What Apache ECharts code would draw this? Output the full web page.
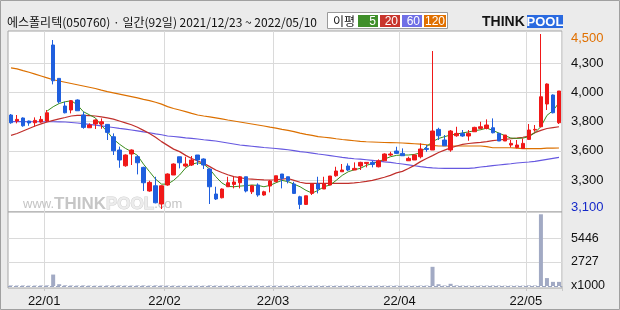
<!DOCTYPE html>
<html><head><meta charset="utf-8">
<script src="https://cdn.jsdelivr.net/npm/echarts@6.0.0/dist/echarts.min.js"></script>
<style>html,body{margin:0;padding:0;background:#ebebeb}#c{width:620px;height:310px}</style>
</head><body><div id="c"></div><script>
const dates = [
'2021/12/23','2021/12/24','2021/12/27','2021/12/28','2021/12/29','2021/12/30',
'2022/01/03','2022/01/04','2022/01/05','2022/01/06','2022/01/07','2022/01/10','2022/01/11','2022/01/12','2022/01/13','2022/01/14',
'2022/01/17','2022/01/18','2022/01/19','2022/01/20','2022/01/21','2022/01/24','2022/01/25','2022/01/26','2022/01/27','2022/01/28',
'2022/02/03','2022/02/04','2022/02/07','2022/02/08','2022/02/09','2022/02/10','2022/02/11','2022/02/14','2022/02/15','2022/02/16',
'2022/02/17','2022/02/18','2022/02/21','2022/02/22','2022/02/23','2022/02/24','2022/02/25','2022/02/28',
'2022/03/02','2022/03/03','2022/03/04','2022/03/07','2022/03/08','2022/03/10','2022/03/11','2022/03/14','2022/03/15','2022/03/16',
'2022/03/17','2022/03/18','2022/03/21','2022/03/22','2022/03/23','2022/03/24','2022/03/25','2022/03/28','2022/03/29','2022/03/30','2022/03/31',
'2022/04/01','2022/04/04','2022/04/05','2022/04/06','2022/04/07','2022/04/08','2022/04/11','2022/04/12','2022/04/13','2022/04/14',
'2022/04/15','2022/04/18','2022/04/19','2022/04/20','2022/04/21','2022/04/22','2022/04/25','2022/04/26','2022/04/27','2022/04/28','2022/04/29',
'2022/05/02','2022/05/03','2022/05/04','2022/05/06','2022/05/09','2022/05/10'];
const opens = [3853,3805,3829,3805,3791,3797,3805,4413,4146,3925,3893,3973,3853,3751,3781,3781,3778,3679,3573,3447,
3541,3519,3434,3245,3287,3141,3293,3373,3519,3445,3453,3533,3501,3421,3221,3191,3279,3298,3311,3359,
3239,3293,3213,3285,3319,3381,3359,3301,3199,3138,3226,3301,3261,3293,3367,3399,3445,3413,3445,3466,
3474,3439,3487,3533,3565,3546,3487,3493,3519,3586,3573,3738,3653,3573,3687,3706,3685,3719,3746,3746,
3751,3706,3645,3613,3594,3586,3658,3733,3759,3941,4013,3791];
const closes = [3791,3818,3767,3789,3810,3818,3871,4127,3959,3871,3967,3887,3754,3773,3813,3799,3714,3567,3493,3533,
3573,3471,3311,3314,3151,3287,3381,3461,3471,3461,3493,3493,3453,3279,3181,3261,3311,3317,3359,3245,
3287,3213,3239,3325,3367,3346,3327,3226,3138,3207,3301,3261,3301,3365,3405,3413,3413,3426,3474,3474,
3458,3487,3541,3541,3546,3527,3506,3533,3581,3578,3725,3687,3607,3725,3706,3685,3706,3754,3759,3773,
3711,3645,3693,3626,3613,3626,3733,3738,3999,4101,3871,4045];
const lows = [3783,3786,3759,3767,3759,3791,3797,4098,3946,3866,3866,3887,3743,3751,3741,3743,3653,3533,3431,3439,
3453,3378,3245,3239,3146,3101,3287,3373,3426,3434,3445,3453,3421,3141,3173,3186,3279,3266,3266,3234,
3221,3199,3207,3234,3319,3266,3306,3221,3100,3133,3213,3226,3261,3293,3359,3399,3405,3413,3413,3434,
3434,3434,3487,3525,3541,3527,3487,3493,3506,3559,3573,3653,3607,3559,3679,3679,3647,3719,3738,3738,
3706,3645,3645,3594,3586,3586,3653,3719,3754,3893,3866,3781];
const highs = [3861,3853,3834,3808,3834,3845,3893,4453,4146,3959,3973,3978,3879,3786,3818,3826,3781,3706,3600,3538,
3578,3533,3439,3327,3359,3290,3386,3466,3519,3519,3525,3533,3506,3426,3279,3266,3359,3359,3365,3359,
3293,3306,3247,3333,3367,3381,3359,3319,3207,3207,3301,3359,3359,3365,3439,3461,3466,3474,3479,3474,
3485,3498,3546,3559,3599,3586,3519,3538,3626,3613,4365,3751,3693,3733,3759,3733,3733,3759,3799,3818,
3826,3711,3693,3653,3653,3666,3781,3773,4501,4106,4018,4045];
const volumes = [60,50,60,40,50,60,70,1300,200,80,60,50,70,50,40,40,60,70,70,50,
50,60,70,50,70,60,50,50,40,40,40,40,40,70,50,40,40,40,40,40,
40,40,30,40,40,40,30,40,50,40,40,40,40,40,40,40,40,40,40,30,
30,40,40,40,50,40,40,40,50,50,2180,200,60,250,70,50,40,40,50,50,
60,50,40,40,40,40,70,60,8150,900,470,470];
const ma5 = [null,null,null,null,null,null,3885,3919,3945,3959,
3967,3935,3880,3855,3830,3770,3720,3660,3620,3586,
3560,3530,3460,3400,3340,3300,3300,3330,3373,3430,
3460,3471,3460,3420,3360,3310,3282,3279,3284,3288,
3293,3290,3279,3290,3311,3330,3320,3300,3279,3250,
3228,3250,3280,3293,3330,3370,3399,3415,3426,3450,
3465,3479,3500,3519,3530,3533,3533,3538,3550,3600,
3640,3665,3680,3693,3700,3710,3718,3728,3735,3748,
3730,3709,3688,3669,3666,3668,3680,3712,3760,3850,3888,3951];
const ma20 = [3690,3705,3725,3745,3765,3782,3797,3810,3822,3833,
3845,3850,3850,3848,3845,3838,3830,3820,3805,3790,
3775,3755,3730,3705,3675,3640,3610,3580,3560,3530,
3505,3485,3466,3440,3413,3393,3375,3360,3352,3343,
3340,3337,3334,3333,3335,3340,3345,3330,3315,3306,
3306,3306,3306,3306,3306,3306,3306,3310,3315,3322,
3330,3342,3355,3370,3390,3402,3425,3450,3480,3505,
3528,3553,3572,3590,3605,3618,3625,3630,3634,3640,
3648,3653,3658,3663,3668,3675,3685,3712,3730,3745,3752,3759];
const ma60 = [3800,3800,3800,3799,3799,3799,3799,3799,3798,3797,
3793,3789,3784,3778,3772,3766,3759,3753,3746,3740,
3733,3726,3718,3711,3702,3695,3685,3681,3676,3670,
3666,3661,3655,3650,3645,3637,3629,3621,3613,3608,
3603,3598,3593,3589,3585,3580,3575,3568,3560,3555,
3548,3541,3535,3528,3521,3514,3508,3503,3500,3495,
3490,3484,3478,3474,3467,3461,3454,3447,3440,3434,
3430,3427,3426,3426,3426,3426,3426,3430,3437,3442,
3448,3453,3458,3463,3469,3473,3477,3482,3490,3498,3506,3514];
const ma120 = [4230,4222,4208,4195,4180,4165,4150,4135,4125,4115,
4105,4095,4085,4075,4065,4052,4040,4030,4020,4010,
4000,3990,3978,3968,3955,3940,3920,3905,3893,3880,
3866,3853,3845,3838,3830,3822,3813,3805,3797,3789,
3781,3773,3765,3756,3748,3738,3730,3720,3708,3698,
3690,3680,3675,3670,3663,3657,3652,3647,3642,3639,
3637,3635,3633,3632,3631,3629,3626,3623,3620,3615,
3610,3605,3605,3605,3605,3605,3605,3605,3605,3600,
3591,3591,3591,3591,3588,3584,3584,3584,3584,3588,3588,3589];
const priceTickValues = [3100, 3333.33, 3566.67, 3800, 4033.33, 4266.67, 4500];
const priceTickLabels = ['3,100','3,300','3,600','3,800','4,000','4,300','4,500'];
const priceGridValues = [3333.33, 3566.67, 3800, 4033.33, 4266.67];
const volTickValues = [0, 2727, 5446];
const volTickLabels = ['x1000','2727','5446'];
const volGridValues = [2727, 5446];

const monthStart = dates.map((d, i) => i > 0 && d.slice(0, 7) !== dates[i - 1].slice(0, 7));
const candles = dates.map((d, i) => [opens[i], closes[i], lows[i], highs[i]]);
function nearest(arr, v) { let k = 0; for (let i = 1; i < arr.length; i++) if (Math.abs(arr[i] - v) < Math.abs(arr[k] - v)) k = i; return k; }

const FONT = 'Liberation Sans';
const GRID_LINE = '#dadada';
const chart = echarts.init(document.getElementById('c'), null, {renderer: 'canvas'});
const monthFn = (idx) => monthStart[idx];
chart.setOption({
  animation: false,
  backgroundColor: '#ebebeb',
  grid: [
    {left: 8, top: 31, width: 554, height: 181, show: true, backgroundColor: '#fff', borderColor: '#a4a4a4', borderWidth: 1, z: 0},
    {left: 8, top: 212, width: 554, height: 76, show: true, backgroundColor: '#fff', borderColor: '#a4a4a4', borderWidth: 1, z: 0}
  ],
  xAxis: [
    {type: 'category', gridIndex: 0, data: dates, boundaryGap: true,
     axisLine: {show: false}, axisTick: {show: false}, axisLabel: {show: false},
     splitLine: {show: true, interval: monthFn, lineStyle: {color: GRID_LINE, width: 1}}},
    {type: 'category', gridIndex: 1, data: dates, boundaryGap: true,
     axisLine: {show: false},
     axisTick: {show: true, interval: monthFn, length: 5, lineStyle: {color: '#c8c8c8'}},
     axisLabel: {show: true, interval: monthFn, margin: 7, fontFamily: FONT, fontSize: 13, color: '#111',
       padding: [0, 6, 0, 0], formatter: (v) => v.slice(2, 7)},
     splitLine: {show: true, interval: monthFn, lineStyle: {color: GRID_LINE, width: 1}}}
  ],
  yAxis: [
    {type: 'value', gridIndex: 0, position: 'right', min: 3077, max: 4525, scale: true,
     axisLine: {show: false},
     axisTick: {show: false, customValues: priceGridValues},
     splitLine: {show: true, lineStyle: {color: GRID_LINE, width: 1}},
     axisLabel: {customValues: priceTickValues, margin: 9, fontFamily: FONT, fontSize: 13, color: '#111',
       formatter: function (v) {
         const k = nearest(priceTickValues, v);
         const t = priceTickLabels[k];
         if (k === priceTickValues.length - 1) return '{hi|' + t + '}';
         if (k === 0) return '{lo|' + t + '}';
         return t;
       },
       rich: {
         hi: {color: '#e07000', fontFamily: FONT, fontSize: 13, padding: [8, 0, 0, 0]},
         lo: {color: '#1428c8', fontFamily: FONT, fontSize: 13, padding: [0, 0, 4, 0]}
       }}},
    {type: 'value', gridIndex: 1, position: 'right', min: -227, max: 8409,
     axisLine: {show: false},
     axisTick: {show: false, customValues: volGridValues},
     splitLine: {show: true, lineStyle: {color: GRID_LINE, width: 1}},
     axisLabel: {customValues: volTickValues, margin: 9, fontFamily: FONT, fontSize: 12.5, color: '#111',
       formatter: (v) => volTickLabels[nearest(volTickValues, v)]}}
  ],
  series: [
    {name: 'MA120', type: 'line', xAxisIndex: 0, yAxisIndex: 0, data: ma120, symbol: 'none', z: 2,
     lineStyle: {color: '#dc7000', width: 1.2}},
    {name: 'MA60', type: 'line', xAxisIndex: 0, yAxisIndex: 0, data: ma60, symbol: 'none', z: 2,
     lineStyle: {color: '#6658e0', width: 1.2}},
    {name: 'MA20', type: 'line', xAxisIndex: 0, yAxisIndex: 0, data: ma20, symbol: 'none', z: 2,
     lineStyle: {color: '#c0302c', width: 1.2}},
    {name: 'MA5', type: 'line', xAxisIndex: 0, yAxisIndex: 0, data: ma5, symbol: 'none', z: 2,
     lineStyle: {color: '#3a8c1c', width: 1}},
    {name: 'price', type: 'candlestick', xAxisIndex: 0, yAxisIndex: 0, data: candles, barWidth: 4, z: 3,
     itemStyle: {color: '#f01818', color0: '#1f5fde', borderColor: '#f01818', borderColor0: '#1f5fde', borderWidth: 1}},
    {name: 'volume', type: 'bar', xAxisIndex: 1, yAxisIndex: 1, data: volumes, barWidth: 4, z: 3,
     itemStyle: {color: '#a2aac4'},
     markLine: {silent: true, symbol: ['none', 'none'], label: {show: false},
       lineStyle: {color: '#9aa4c0', type: [4, 2], width: 1}, data: [{yAxis: 0}]}}
  ],
  graphic: [
    {type: 'rect', shape: {x: 0.5, y: 0.5, width: 619, height: 309}, style: {fill: 'none', stroke: '#a0a0a0', lineWidth: 1}, z: 10},
    {type: 'text', x: 7, y: 22, style: {text: '에스폴리텍(050760) · 일간(92일) 2021/12/23 ~ 2022/05/10',
      font: '12px "Noto Sans CJK KR"', fill: '#111', verticalAlign: 'middle'}, z: 10},
    {type: 'rect', shape: {x: 327.5, y: 12.5, width: 120, height: 16}, style: {fill: '#fff', stroke: '#9a9a9a', lineWidth: 1}, z: 10},
    {type: 'text', x: 333, y: 21, style: {text: '이평', font: '12px "Noto Sans CJK KR"', fill: '#111', verticalAlign: 'middle'}, z: 11},
    {type: 'rect', shape: {x: 358, y: 15, width: 20, height: 12}, style: {fill: '#3f8f2a'}, z: 11},
    {type: 'text', x: 376, y: 21.5, style: {text: '5', font: '12px "Liberation Sans"', fill: '#fff', align: 'right', verticalAlign: 'middle'}, z: 12},
    {type: 'rect', shape: {x: 380, y: 15, width: 20, height: 12}, style: {fill: '#c8352c'}, z: 11},
    {type: 'text', x: 398, y: 21.5, style: {text: '20', font: '12px "Liberation Sans"', fill: '#fff', align: 'right', verticalAlign: 'middle'}, z: 12},
    {type: 'rect', shape: {x: 402, y: 15, width: 20, height: 12}, style: {fill: '#6f6fe6'}, z: 11},
    {type: 'text', x: 420, y: 21.5, style: {text: '60', font: '12px "Liberation Sans"', fill: '#fff', align: 'right', verticalAlign: 'middle'}, z: 12},
    {type: 'rect', shape: {x: 424, y: 15, width: 22, height: 12}, style: {fill: '#e07000'}, z: 11},
    {type: 'text', x: 445, y: 21.5, style: {text: '120', font: '12px "Liberation Sans"', fill: '#fff', align: 'right', verticalAlign: 'middle'}, z: 12},
    {type: 'text', x: 482, y: 22, style: {text: 'THINK', font: 'bold 14px "Liberation Sans"', fill: '#151515', verticalAlign: 'middle'}, z: 10},
    {type: 'rect', shape: {x: 527, y: 15, width: 36, height: 13}, style: {fill: '#2a6ae0'}, z: 10},
    {type: 'text', x: 545, y: 22, style: {text: 'POOL', font: 'bold 13px "Liberation Sans"', fill: '#fff', align: 'center', verticalAlign: 'middle'}, z: 11},
    {type: 'text', x: 23, y: 204, z: 1, silent: true, style: {
      text: '{a|www.}{b|THINK}{c|POOL}{a|.com}', verticalAlign: 'middle',
      rich: {
        a: {font: '13px "Liberation Sans"', fill: '#c4c4c4'},
        b: {font: 'bold 17px "Liberation Sans"', fill: '#c6c6c6'},
        c: {font: 'bold 17px "Liberation Sans"', fill: '#ececec', stroke: '#cfcfcf', lineWidth: 1}
      }}}
  ]
});
</script></body></html>
